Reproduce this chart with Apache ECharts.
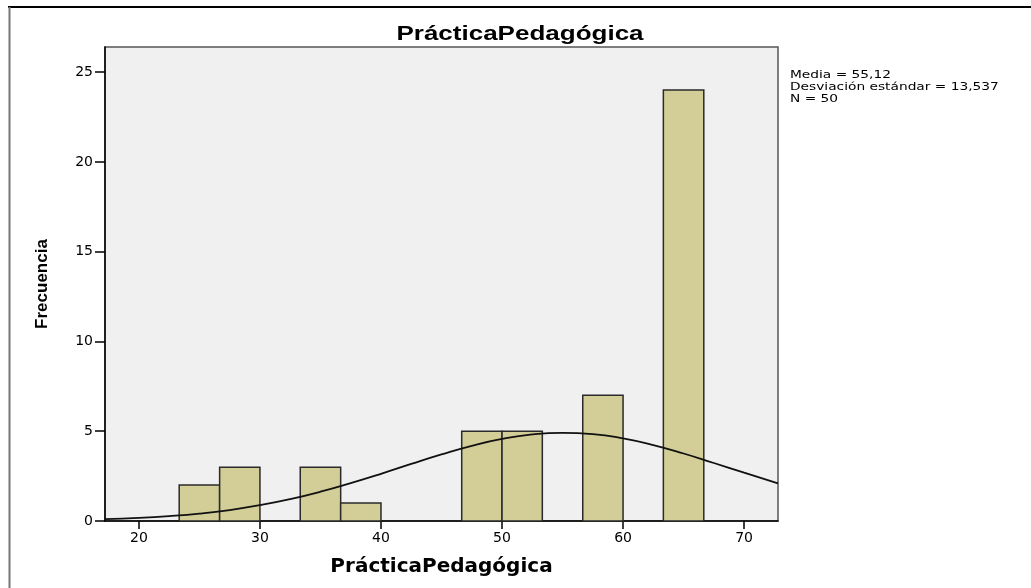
<!DOCTYPE html>
<html>
<head>
<meta charset="utf-8">
<script src="https://cdn.jsdelivr.net/npm/echarts@6/dist/echarts.min.js"></script>
<style>html,body{margin:0;padding:0;background:#fff;}#c{width:1031px;height:588px;}</style>
</head>
<body>
<div id="c"></div>
<script>
// Histogram bins (bin width 10/3)
var binStart = [23.33, 26.67, 33.33, 36.67, 46.67, 50.00, 56.67, 63.33];
var binEnd   = [26.67, 30.00, 36.67, 40.00, 50.00, 53.33, 60.00, 66.67];
var counts   = [2, 3, 3, 1, 5, 5, 7, 24];
// Normal curve
var curveX = [17.2, 20, 22.5, 25, 27.5, 30, 32.5, 35, 37.5, 40, 42.5, 45, 47.5, 50, 52.5, 55, 57.5, 60, 62.5, 65, 67.5, 70, 72.8];
var curveY = [0.10, 0.17, 0.27, 0.41, 0.61, 0.88, 1.22, 1.63, 2.11, 2.63, 3.18, 3.71, 4.19, 4.57, 4.82, 4.91, 4.84, 4.60, 4.23, 3.76, 3.23, 2.69, 2.09];
var xTicks = [20, 30, 40, 50, 60, 70];
var yTicks = [0, 5, 10, 15, 20, 25];
var titleText = 'PrácticaPedagógica';
var xName = 'PrácticaPedagógica';
var yName = 'Frecuencia';
var statsLines = ['Media = 55,12', 'Desviación estándar = 13,537', 'N = 50'];

var barData = binStart.map(function (s, i) { return [s, binEnd[i], counts[i]]; });
var lineData = curveX.map(function (x, i) { return [x, curveY[i]]; });

var chart = echarts.init(document.getElementById('c'));
chart.setOption({
  animation: false,
  backgroundColor: '#ffffff',
  grid: {
    left: 105, right: 253, top: 47, bottom: 67,
    show: true, backgroundColor: '#f0f0f0', borderColor: '#555', borderWidth: 1.5
  },
  xAxis: {
    type: 'value', min: 17.2, max: 72.8,
    name: xName, nameLocation: 'middle', nameGap: 36,
    nameTextStyle: { fontFamily: 'DejaVu Sans', fontWeight: 'bold', fontSize: 20, color: '#000' },
    axisLine: { show: true, lineStyle: { color: '#000', width: 1.5 } },
    axisTick: { show: true, length: 8, lineStyle: { color: '#000', width: 1.5 }, customValues: xTicks },
    axisLabel: { customValues: xTicks, fontFamily: 'DejaVu Sans', fontSize: 14, color: '#000', margin: 10 },
    splitLine: { show: false }
  },
  yAxis: {
    type: 'value', min: 0, max: 26.4,
    name: yName, nameLocation: 'middle', nameGap: 54,
    nameTextStyle: { fontFamily: 'Liberation Sans', fontWeight: 'bold', fontSize: 17, color: '#000' },
    axisLine: { show: true, lineStyle: { color: '#000', width: 1.5 } },
    axisTick: { show: true, length: 10, lineStyle: { color: '#000', width: 1.5 }, customValues: yTicks },
    axisLabel: { customValues: yTicks, fontFamily: 'DejaVu Sans', fontSize: 14, color: '#000', margin: 12 },
    splitLine: { show: false }
  },
  graphic: [
    { type: 'line', shape: { x1: 8, y1: 7, x2: 1031, y2: 7 }, style: { stroke: '#000', lineWidth: 2 }, silent: true },
    { type: 'line', shape: { x1: 9.5, y1: 7, x2: 9.5, y2: 588 }, style: { stroke: '#777', lineWidth: 2 }, silent: true },
    { type: 'text', x: 520, y: 24, scaleX: 1.3,
      style: { text: titleText, font: 'bold 20px "Liberation Sans"', fill: '#000', textAlign: 'center', textVerticalAlign: 'top' } },
    { type: 'text', x: 790, y: 69, scaleX: 1.25,
      style: { text: statsLines.join('\n'), font: '11px "DejaVu Sans"', lineHeight: 12, fill: '#000' } }
  ],
  series: [
    {
      type: 'custom',
      data: barData,
      encode: { x: [0, 1], y: 2 },
      z: 2,
      renderItem: function (params, api) {
        var p0 = api.coord([api.value(0), 0]);
        var p1 = api.coord([api.value(1), api.value(2)]);
        return {
          type: 'rect',
          shape: { x: p0[0], y: p1[1], width: p1[0] - p0[0], height: p0[1] - p1[1] },
          style: { fill: '#d3ce97', stroke: '#2a2a2a', lineWidth: 1.5 }
        };
      }
    },
    {
      type: 'line',
      data: lineData,
      smooth: true,
      symbol: 'none',
      z: 5,
      lineStyle: { color: '#111', width: 1.8 }
    }
  ]
});
</script>
</body>
</html>
